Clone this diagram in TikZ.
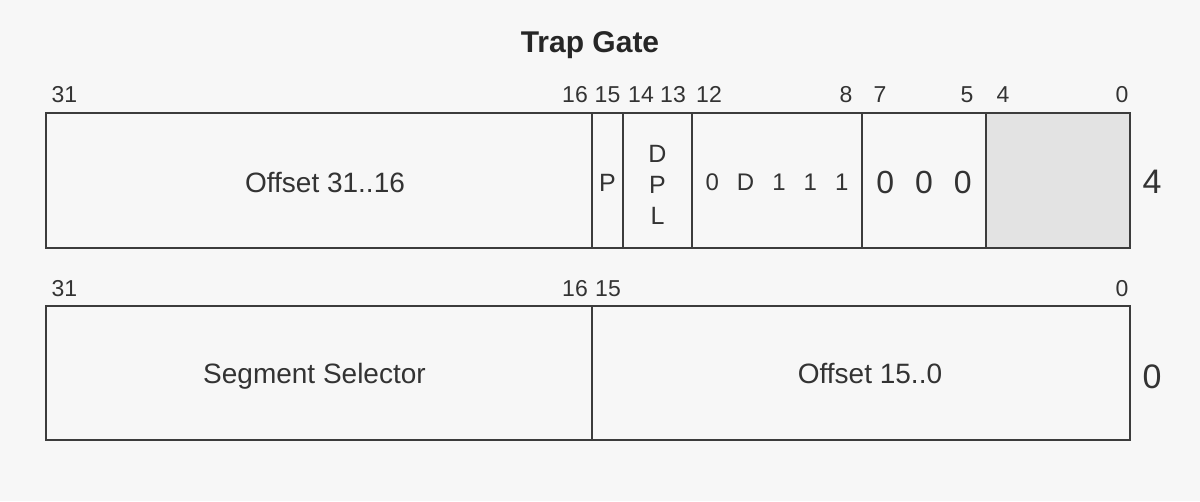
\documentclass[tikz,border=0pt]{standalone}
\usepackage{fontspec}
\setmainfont{Liberation Sans}
\usetikzlibrary{positioning}
\definecolor{bg}{HTML}{F7F7F7}
\definecolor{ink}{HTML}{333333}
\definecolor{rim}{HTML}{3C3C3C}
\definecolor{shade}{HTML}{E3E3E3}
\newcommand{\bitgap}{\hspace{18pt}}
\newcommand{\zerogap}{\hspace{21pt}}
\begin{document}
\begin{tikzpicture}[x=1pt,y=-1pt,
        field/.style={draw=rim,line width=2.2pt,rectangle,inner sep=0pt,outer sep=0pt,text=ink,text depth=0pt},
        bitno/.style={anchor=base,text=ink,inner sep=0pt,font=\fontsize{23}{25}\selectfont},
        rowno/.style={text=ink,inner sep=0pt,font=\fontsize{34}{36}\selectfont}]
    \fill[bg] (0,0) rectangle (1200,501);
    \node[anchor=base,inner sep=0pt,text=black!85,font=\fontsize{30}{32}\selectfont\bfseries] (title) at (590,52) {Trap Gate};
    \node[field,text height=24pt,minimum width=546pt,minimum height=135pt,font=\fontsize{28}{30}\selectfont] (hi) at (319,180.5) {\hspace*{12pt}Offset 31..16};
    \node[field,text height=21pt,minimum width=31pt,minimum height=135pt,font=\fontsize{25}{27}\selectfont,right=0pt of hi] (p) {P};
    \node[field,align=center,text height=88pt,minimum width=69pt,minimum height=135pt,font=\fontsize{25}{31}\selectfont,right=0pt of p] (dpl) {D\\P\\L};
    \node[field,text height=19pt,minimum width=170pt,minimum height=135pt,font=\fontsize{24}{26}\selectfont,right=0pt of dpl] (type) {0\bitgap D\bitgap 1\bitgap 1\bitgap 1};
    \node[field,text height=25pt,minimum width=124pt,minimum height=135pt,font=\fontsize{32}{34}\selectfont,right=0pt of type] (zeros) {0\zerogap 0\zerogap 0};
    \node[field,fill=shade,minimum width=144pt,minimum height=135pt,right=0pt of zeros] (rsvd) {};
    \node[field,text height=20pt,minimum width=546pt,minimum height=134pt,font=\fontsize{28}{30}\selectfont] (sel) at (319,373) {Segment Selector\hspace*{9pt}};
    \node[field,text height=20pt,minimum width=538pt,minimum height=134pt,font=\fontsize{28}{30}\selectfont,right=0pt of sel] (lo) {\hspace*{18pt}Offset 15..0};
    \foreach \x/\n in {64.5/31,575/16,607.5/15,641/14,673/13,709/12,846/8,880/7,967/5,1003/4,1122/0}
        \node[bitno] (up\n) at (\x,102) {\n};
    \foreach \x/\n in {64.5/31,575/16,608/15,1122/0}
        \node[bitno] (dn\n) at (\x,296) {\n};
    \node[rowno] (row4) at (1152,181.5) {4};
    \node[rowno] (row0) at (1152,376.5) {0};
\end{tikzpicture}
\end{document}
